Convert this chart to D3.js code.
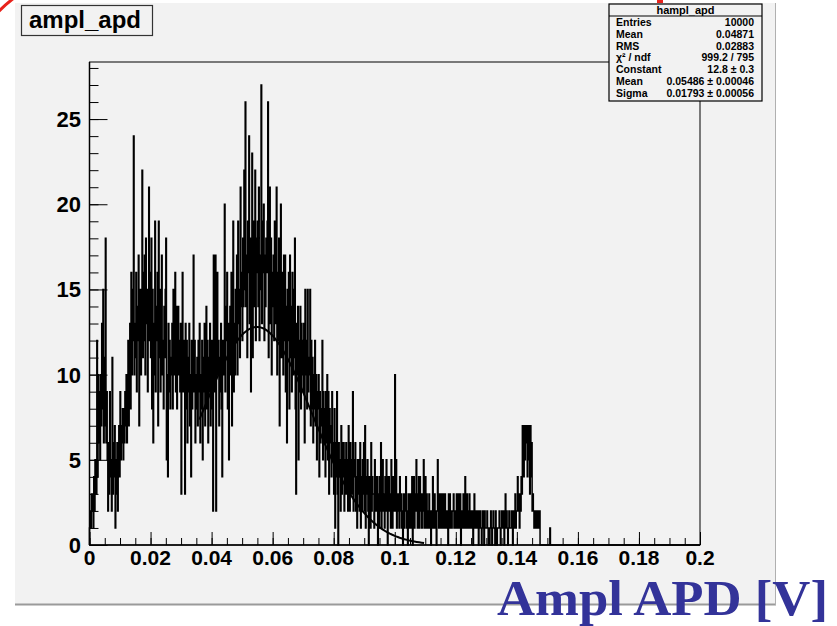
<!DOCTYPE html>
<html>
<head>
<meta charset="utf-8">
<script src="https://cdn.jsdelivr.net/npm/d3@7/dist/d3.min.js"></script>
<style>
  html, body { margin: 0; padding: 0; background: #ffffff; }
  svg { display: block; }
  text { font-family: "Liberation Sans", Arial, Helvetica, sans-serif; font-weight: bold; }
</style>
</head>
<body>
<script>
// ---------------- data ----------------
const binWidth = 0.0002;           // histogram bin width [V]
// bin contents (5 bins per 0.001 V)
const counts = [
  1,2,1,3,2,  3,1,4,2,5,  5,3,12,4,10,  6,9,5,10,7,  13,8,15,6,11,
  7,18,6,9,5,  2,6,3,9,4,  5,2,11,3,6,  4,7,1,5,3,  6,2,5,7,4,
  9,5,7,6,8,  5,8,6,9,7,  10,6,8,12,7,  9,13,8,16,10,  12,15,24,10,13,
  11,16,9,14,12,  17,7,13,15,10,  14,22,11,16,12,  17,10,18,13,15,  9,14,21,12,16,
  11,18,8,15,6,  13,10,19,9,14,  12,16,7,19,11,  15,9,13,17,10,  12,8,14,11,15,
  18,5,10,4,13,  9,12,8,11,10,  13,8,15,10,12,  16,9,14,8,11,  14,10,12,9,13,
  3,11,16,9,12,  10,3,13,8,12,  6,11,9,13,7,  10,4,12,8,11,  17,9,12,6,10,
  8,11,7,12,9,  13,6,10,8,12,  5,11,9,13,7,  10,14,8,12,6,  11,9,13,7,10,
  12,8,2,17,11,  9,17,2,12,16,  10,12,7,11,9,  13,8,4,12,10,  11,20,9,14,12,
  16,8,13,5,12,  14,10,16,7,11,  19,9,13,10,15,  12,17,10,19,13,  15,11,21,14,16,
  12,18,14,22,15,  26,14,17,11,19,  16,24,13,18,9,  15,23,11,19,14,  17,22,12,18,16,
  19,14,21,12,17,  15,27,13,19,16,  20,12,17,14,18,  16,19,26,11,17,  21,13,18,10,16,
  14,17,12,19,15,  13,21,10,16,12,  18,7,14,20,11,  13,16,10,17,12,  17,9,14,6,15,
  12,16,8,17,11,  14,9,16,10,15,  11,18,8,3,13,  10,14,5,12,9,  14,8,13,10,12,
  9,13,6,15,10,  12,8,15,9,11,  10,15,7,12,8,  11,6,10,8,12,  7,10,5,9,8,
  10,4,9,6,8,  7,12,5,9,6,  8,4,9,6,10,  5,9,3,8,6,  7,4,9,5,6,
  3,8,1,6,4,  9,3,0,6,4,  5,2,7,3,6,  4,6,2,5,3,  6,3,5,2,7,
  4,2,6,3,5,  3,9,2,5,4,  6,2,4,1,5,  3,5,2,6,1,  4,2,5,3,6,
  2,7,1,4,3,  5,2,0,4,3,  1,6,2,4,3,  3,1,5,2,4,  2,4,0,3,1,
  4,2,6,1,3,  5,2,3,1,4,  2,5,3,0,4,  4,2,3,1,5,  3,1,4,2,3,
  10,2,5,1,3,  2,3,1,4,2,  3,1,2,0,3,  1,3,2,4,1,  2,0,3,1,2,
  3,1,2,4,0,  2,4,1,3,2,  5,2,1,3,4,  1,4,2,3,1,  2,3,5,1,2,
  4,1,3,2,1,  2,3,1,2,0,  1,2,4,1,3,  3,1,2,0,2,  5,2,1,3,2,
  1,3,2,1,3,  2,1,3,2,1,  1,2,0,3,1,  3,1,2,1,2,  2,3,1,2,1,
  1,3,2,1,3,  2,1,3,0,2,  1,2,3,1,2,  4,1,2,3,1,  2,1,3,1,2,
  1,2,1,0,2,  3,1,2,1,2,  1,2,0,1,2,  2,1,0,1,2,  1,0,2,1,1,
  1,2,1,0,1,  0,1,2,1,0,  1,2,1,1,0,  2,1,0,1,1,  1,2,1,0,1,
  2,1,1,2,0,  1,3,1,2,1,  0,1,2,1,1,  1,2,1,0,2,  1,2,3,1,2,
  2,4,3,2,1,  3,2,4,3,7,  7,4,7,5,7,  6,7,4,7,5,  7,3,7,4,6,
  2,3,2,1,2,  1,2,1,1,2,  1,1,2,0,0,  0,0,0,0,0,  0,0,0,0,0,
  0,0,0,0,1
];
const xTickValues = [0, 0.02, 0.04, 0.06, 0.08, 0.1, 0.12, 0.14, 0.16, 0.18, 0.2];
const xTickLabels = ["0", "0.02", "0.04", "0.06", "0.08", "0.1", "0.12", "0.14", "0.16", "0.18", "0.2"];
const yTickValues = [0, 5, 10, 15, 20, 25];
const yTickLabels = ["0", "5", "10", "15", "20", "25"];
const fitConstant = 12.8, fitMean = 0.05486, fitSigma = 0.01793;
const fitRange = [0.036, 0.11];
const statsNames  = ["Entries", "Mean", "RMS", "\u03C7\u00B2 / ndf", "Constant", "Mean", "Sigma"];
const statsValues = ["10000", "0.04871", "0.02883", "999.2 / 795", "12.8 \u00B1 0.3", "0.05486 \u00B1 0.00046", "0.01793 \u00B1 0.00056"];

// ---------------- drawing ----------------
const W = 837, H = 626;
const svg = d3.select("body").append("svg").attr("width", W).attr("height", H);

// pad
svg.append("rect").attr("x", 15).attr("y", 3).attr("width", 760).attr("height", 601).attr("fill", "#f2f2f2");
svg.append("line").attr("x1", 15).attr("x2", 776).attr("y1", 604.5).attr("y2", 604.5).attr("stroke", "#9a9a9a").attr("stroke-width", 2);
svg.append("line").attr("x1", 775.5).attr("x2", 775.5).attr("y1", 3).attr("y2", 605).attr("stroke", "#b0b0b0").attr("stroke-width", 1);

// red marks at the top
svg.append("path").attr("d", "M-2,12 Q6,4 14,-2").attr("fill", "none").attr("stroke", "#e8231c").attr("stroke-width", 3);
svg.append("rect").attr("x", 657).attr("y", 0).attr("width", 6).attr("height", 3).attr("fill", "#e8231c");

const x = d3.scaleLinear().domain([0, 0.2]).range([89.5, 700]);
const y = d3.scaleLinear().domain([0, 28.35]).range([545, 62]);

// frame
svg.append("rect").attr("x", x(0)).attr("y", y(28.35)).attr("width", x(0.2) - x(0)).attr("height", y(0) - y(28.35))
  .attr("fill", "#f2f2f2").attr("stroke", "#000").attr("stroke-width", 1);

// histogram
const pts = [[x(0), y(0)]];
counts.forEach((c, i) => {
  pts.push([x(i * binWidth), y(c)]);
  pts.push([x((i + 1) * binWidth), y(c)]);
});
pts.push([x(counts.length * binWidth), y(0)]);
pts.push([x(0.2), y(0)]);
svg.append("path").attr("d", d3.line()(pts)).attr("fill", "none").attr("stroke", "#000").attr("stroke-width", 1.5);

// gaussian fit (drawn over the fit range)
const gx = d3.range(fitRange[0], fitRange[1] + 1e-9, 0.0008);
const gauss = v => fitConstant * Math.exp(-0.5 * Math.pow((v - fitMean) / fitSigma, 2));
svg.append("path").attr("d", d3.line().x(d => x(d)).y(d => y(gauss(d)))(gx))
  .attr("fill", "none").attr("stroke", "#000").attr("stroke-width", 2);

// axes (ticks drawn inside frame, ROOT style)
const xAxis = d3.axisTop(x).tickValues(d3.range(0, 0.2001, 0.005)).tickSize(7).tickFormat("");
const gxMinor = svg.append("g").attr("transform", `translate(0,${y(0)})`).call(xAxis);
const xAxisMaj = d3.axisTop(x).tickValues(xTickValues).tickSize(13).tickFormat("");
const gxMaj = svg.append("g").attr("transform", `translate(0,${y(0)})`).call(xAxisMaj);
const yAxis = d3.axisRight(y).tickValues(d3.range(0, 28.1, 1)).tickSize(9).tickFormat("");
const gyMinor = svg.append("g").attr("transform", `translate(${x(0)},0)`).call(yAxis);
const yAxisMaj = d3.axisRight(y).tickValues(yTickValues).tickSize(18).tickFormat("");
const gyMaj = svg.append("g").attr("transform", `translate(${x(0)},0)`).call(yAxisMaj);
[gxMinor, gxMaj, gyMinor, gyMaj].forEach(g => {
  g.select(".domain").remove();
  g.selectAll("line").attr("stroke", "#000").attr("stroke-width", 1);
});
// axis lines
svg.append("line").attr("x1", x(0)).attr("x2", x(0.2)).attr("y1", y(0)).attr("y2", y(0)).attr("stroke", "#000").attr("stroke-width", 1.5);
svg.append("line").attr("x1", x(0)).attr("x2", x(0)).attr("y1", y(0)).attr("y2", y(28.35)).attr("stroke", "#000").attr("stroke-width", 1.5);

// tick labels
svg.append("g").selectAll("text").data(xTickValues).join("text")
  .attr("x", d => x(d)).attr("y", 565).attr("text-anchor", "middle")
  .attr("font-size", 21).attr("fill", "#000").text((d, i) => xTickLabels[i]);
svg.append("g").selectAll("text").data(yTickValues).join("text")
  .attr("x", 81).attr("y", d => y(d) + 8).attr("text-anchor", "end")
  .attr("font-size", 22).attr("fill", "#000").text((d, i) => yTickLabels[i]);

// x axis title
svg.append("text").attr("x", 497).attr("y", 615).attr("textLength", 331).attr("lengthAdjust", "spacingAndGlyphs")
  .style("font-family", '"Liberation Serif", "Times New Roman", Times, serif')
  .attr("font-size", 50).attr("fill", "#333399").text("Ampl APD [V]");

// title box
svg.append("rect").attr("x", 21.5).attr("y", 5.5).attr("width", 131).attr("height", 30)
  .attr("fill", "#f2f2f2").attr("stroke", "#333").attr("stroke-width", 1.2);
svg.append("text").attr("x", 29).attr("y", 28).attr("font-size", 24).attr("fill", "#000").text("ampl_apd");

// stats box
svg.append("rect").attr("x", 609).attr("y", 4).attr("width", 153).attr("height", 97)
  .attr("fill", "#f2f2f2").attr("stroke", "#000").attr("stroke-width", 1.2);
svg.append("line").attr("x1", 609).attr("x2", 762).attr("y1", 16).attr("y2", 16).attr("stroke", "#000").attr("stroke-width", 1);
svg.append("text").attr("x", 685.5).attr("y", 14).attr("text-anchor", "middle").attr("font-size", 11).attr("fill", "#000").text("hampl_apd");
const rowY = [26, 37.8, 49.6, 61.4, 73.2, 85, 96.8];
svg.append("g").selectAll("text").data(statsNames).join("text")
  .attr("x", 616).attr("y", (d, i) => rowY[i]).attr("font-size", 10.5).attr("fill", "#000").text(d => d);
svg.append("g").selectAll("text").data(statsValues).join("text")
  .attr("x", 754).attr("y", (d, i) => rowY[i]).attr("text-anchor", "end").attr("font-size", 10.5).attr("fill", "#000").text(d => d);
</script>
</body>
</html>
